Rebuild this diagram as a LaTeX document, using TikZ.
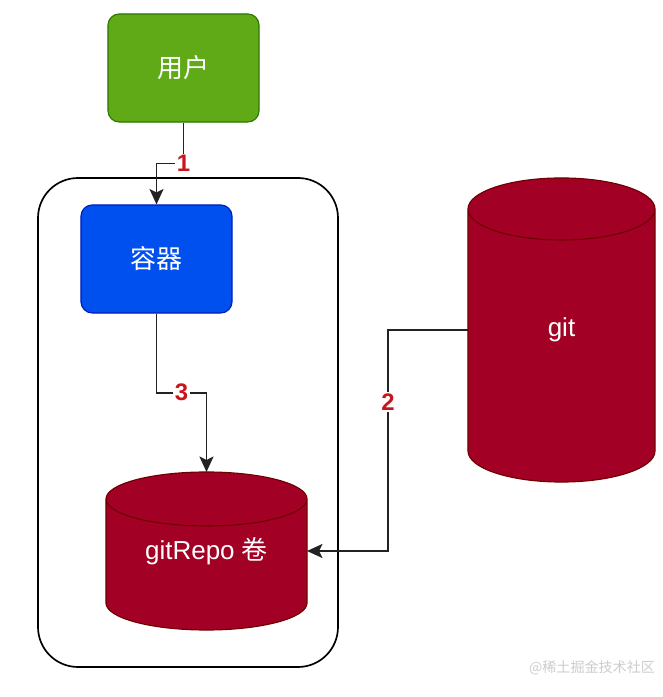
\documentclass[tikz,border=0pt]{standalone}
\usepackage{fontspec}
\setmainfont{Liberation Sans}
\newfontfamily\cjk{Noto Sans CJK SC}
\usetikzlibrary{calc,arrows.meta,backgrounds}
\definecolor{leaf}{HTML}{60A917}
\definecolor{leafline}{HTML}{2D7600}
\definecolor{cobalt}{HTML}{0050EF}
\definecolor{cobaltline}{HTML}{001DBC}
\definecolor{crimson}{HTML}{A20025}
\definecolor{crimsonline}{HTML}{6F0000}
\definecolor{ink}{HTML}{222222}
\definecolor{numred}{HTML}{C8161D}
% cylinder drawn around a node: #1 node, #2 radius of the cap
\newcommand\drum[2]{\filldraw[drum] let \p1=(#1.north west),\p2=(#1.south east),\n1={(\x2-\x1)/2} in
 (\x1,\y1-#2) -- (\x1,\y2+#2) arc[start angle=180,end angle=360,x radius=\n1,y radius=#2]
 -- (\x2,\y1-#2) arc[start angle=0,end angle=180,x radius=\n1,y radius=#2] -- cycle
 (\x1,\y1-#2) arc[start angle=180,end angle=360,x radius=\n1,y radius=#2];}

\begin{document}
\begin{tikzpicture}[x=0.025cm,y=0.025cm,
 box/.style={rounded corners=.28cm,minimum width=3.775cm,minimum height=2.7cm,line width=.8pt,text=white,font=\cjk\fontsize{18.5}{22}\selectfont},
 store/.style={outer sep=0pt,text=white,font=\fontsize{18.5}{22}\selectfont},
 drum/.style={fill=crimson,draw=crimsonline,line width=.8pt},
 flow/.style={ink,line width=1.4pt,-{Stealth[length=11pt,width=10pt,inset=2.5pt]}},
 num/.style={fill=white,text=numred,inner sep=1pt,font=\bfseries\fontsize{17}{20}\selectfont}]
 \useasboundingbox (0,0) rectangle (663,697);
 \draw[line width=1.2pt,rounded corners=1cm] (38,30) rectangle (338,519);
 \node[box,fill=leaf,draw=leafline] (user) at (183.5,629) {用户};
 \node[box,fill=cobalt,draw=cobaltline] (pod) at (156.5,438) {容器};
 \node[store,minimum width=5.025cm,minimum height=3.95cm] (repo) at (206.5,146) {gitRepo {\cjk 卷}};
 \node[store,minimum width=4.675cm,minimum height=7.6cm] (git) at (561.5,367) {git};
 \begin{scope}[on background layer]
  \drum{repo}{.675cm}
  \drum{git}{.775cm}
 \end{scope}
 % connectors
 \coordinate (k1) at ($(user.south)!.5!(pod.north)$);
 \coordinate (k3) at ($(pod.south)!.5!(repo.north)$);
 \coordinate (k2) at ($(git.west)+(-80,0)$);
 \draw[flow] (user.south) |- (k1) -| (pod.north);
 \draw[flow] (pod.south) |- (k3) -| (repo.north);
 \draw[flow] (git.west) -- (k2) |- (repo.east);
 \node[num] (n1) at (user.south |- k1) {1};
 \node[num] (n2) at ($(k2)+(0,-72)$) {2};
 \node[num] (n3) at (k3) {3};
 \node[text=gray!40,font=\cjk\fontsize{10}{12}\selectfont] (mark) at (592,29) {@稀土掘金技术社区};
\end{tikzpicture}
\end{document}
